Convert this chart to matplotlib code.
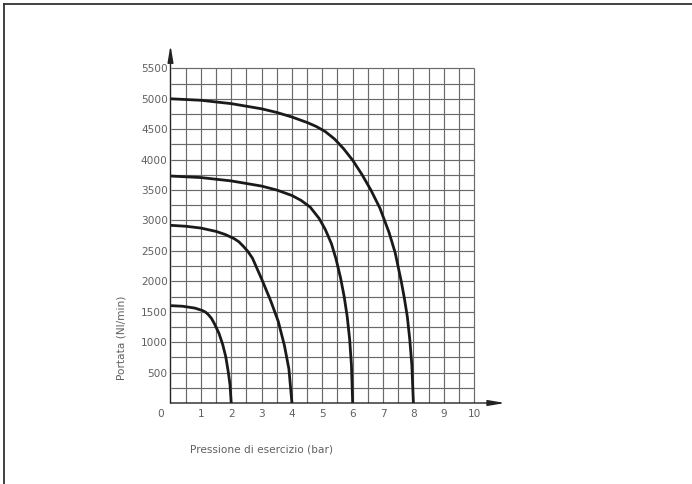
import numpy
from matplotlib import pyplot
from matplotlib.lines import Line2D

# Curves: pressure (bar) -> flow (Nl/min).
x_2bar = [0, 0.4, 0.8, 1.05, 1.15, 1.25, 1.35, 1.45, 1.6, 1.72, 1.82, 1.9,
          1.96, 2.0]
y_2bar = [1600, 1590, 1560, 1520, 1495, 1450, 1390, 1300, 1140, 960, 760, 520,
          300, 0]

x_4bar = [0, 0.5, 1, 1.5, 1.8, 2.1, 2.25, 2.4, 2.55, 2.7, 3.0, 3.3, 3.55, 3.75,
          3.9, 4.0]
y_4bar = [2920, 2905, 2875, 2820, 2770, 2700, 2650, 2575, 2490, 2380, 2040,
          1680, 1340, 950, 560, 0]

x_6bar = [0, 1, 2, 3, 3.5, 4, 4.3, 4.6, 4.9, 5.1, 5.3, 5.45, 5.6, 5.72, 5.82,
          5.9, 5.96, 6.0]
y_6bar = [3730, 3705, 3650, 3565, 3500, 3410, 3330, 3220, 3030, 2850, 2620,
          2370, 2060, 1750, 1420, 1050, 620, 0]

x_8bar = [0, 1, 2, 3, 3.5, 4, 4.5, 4.8, 5.1, 5.4, 5.7, 6.0, 6.3, 6.6, 6.9,
          7.2, 7.4, 7.6, 7.7, 7.8, 7.88, 7.95, 8.0]
y_8bar = [5000, 4975, 4920, 4835, 4775, 4700, 4610, 4545, 4460, 4340, 4180,
          3990, 3760, 3500, 3200, 2800, 2470, 2000, 1730, 1420, 1050, 620, 0]

x_ticks = [1, 2, 3, 4, 5, 6, 7, 8, 9, 10]
y_ticks = [500, 1000, 1500, 2000, 2500, 3000, 3500, 4000, 4500, 5000, 5500]

X_MAX = 10
Y_MAX = 5500
TEXT = '#606060'
GRID = '#6a6a6a'

pyplot.rcParams['font.family'] = ['DejaVu Sans']

fig = pyplot.figure(figsize=(6.92, 4.84), dpi=100)
ax = fig.add_axes([170.5 / 692, 81 / 484, 337 / 692, 359 / 484])
ax.set_xlim(0, 11.1)
ax.set_ylim(0, 5900)

# Grid, bounded to the drawing area.
ax.vlines(numpy.arange(0.5, X_MAX + 0.01, 0.5), 0, Y_MAX, color=GRID, lw=0.85)
ax.hlines(numpy.arange(250, Y_MAX + 1, 250), 0, X_MAX, color=GRID, lw=0.85)

for xs, ys in ((x_2bar, y_2bar), (x_4bar, y_4bar), (x_6bar, y_6bar),
               (x_8bar, y_8bar)):
  ax.plot(xs, ys, color='#1a1a1a', lw=2, solid_joinstyle='round',
          solid_capstyle='butt')

# Axes with arrow heads.
for s in ax.spines.values():
  s.set_visible(False)
arrow = dict(arrowstyle='-|>,head_length=1.0,head_width=0.17', color='#222222',
             lw=1, shrinkA=0, shrinkB=0)
ax.annotate('', xy=(0, 5880), xytext=(0, 0), arrowprops=arrow,
            annotation_clip=False)
ax.annotate('', xy=(11.02, 0), xytext=(0, 0), arrowprops=arrow,
            annotation_clip=False)

ax.set_xticks(x_ticks)
ax.set_xticklabels([str(v) for v in x_ticks])
ax.set_yticks(y_ticks)
ax.set_yticklabels([str(v) for v in y_ticks])
ax.tick_params(length=0, labelsize=7.6, labelcolor=TEXT)
ax.tick_params(axis='y', pad=2)
ax.tick_params(axis='x', pad=4)
ax.annotate('0', xy=(0, 0), xytext=(-5, -4), textcoords='offset points',
            ha='right', va='top', fontsize=7.6, color=TEXT)

fig.text(190 / 692, 1 - 450 / 484, 'Pressione di esercizio (bar)',
         ha='left', va='center', fontsize=7.6, color=TEXT)
fig.text(121 / 692, 1 - 338 / 484, 'Portata (Nl/min)', rotation=90,
         ha='center', va='center', fontsize=7.6, color=TEXT)

# Page frame (top and left edges).
fig.add_artist(Line2D([4 / 692, 1], [1 - 4 / 484, 1 - 4 / 484],
                      color='#333333', lw=1.3))
fig.add_artist(Line2D([4 / 692, 4 / 692], [0, 1 - 4 / 484],
                      color='#333333', lw=1.3))

fig.savefig('out.png', dpi=100)
